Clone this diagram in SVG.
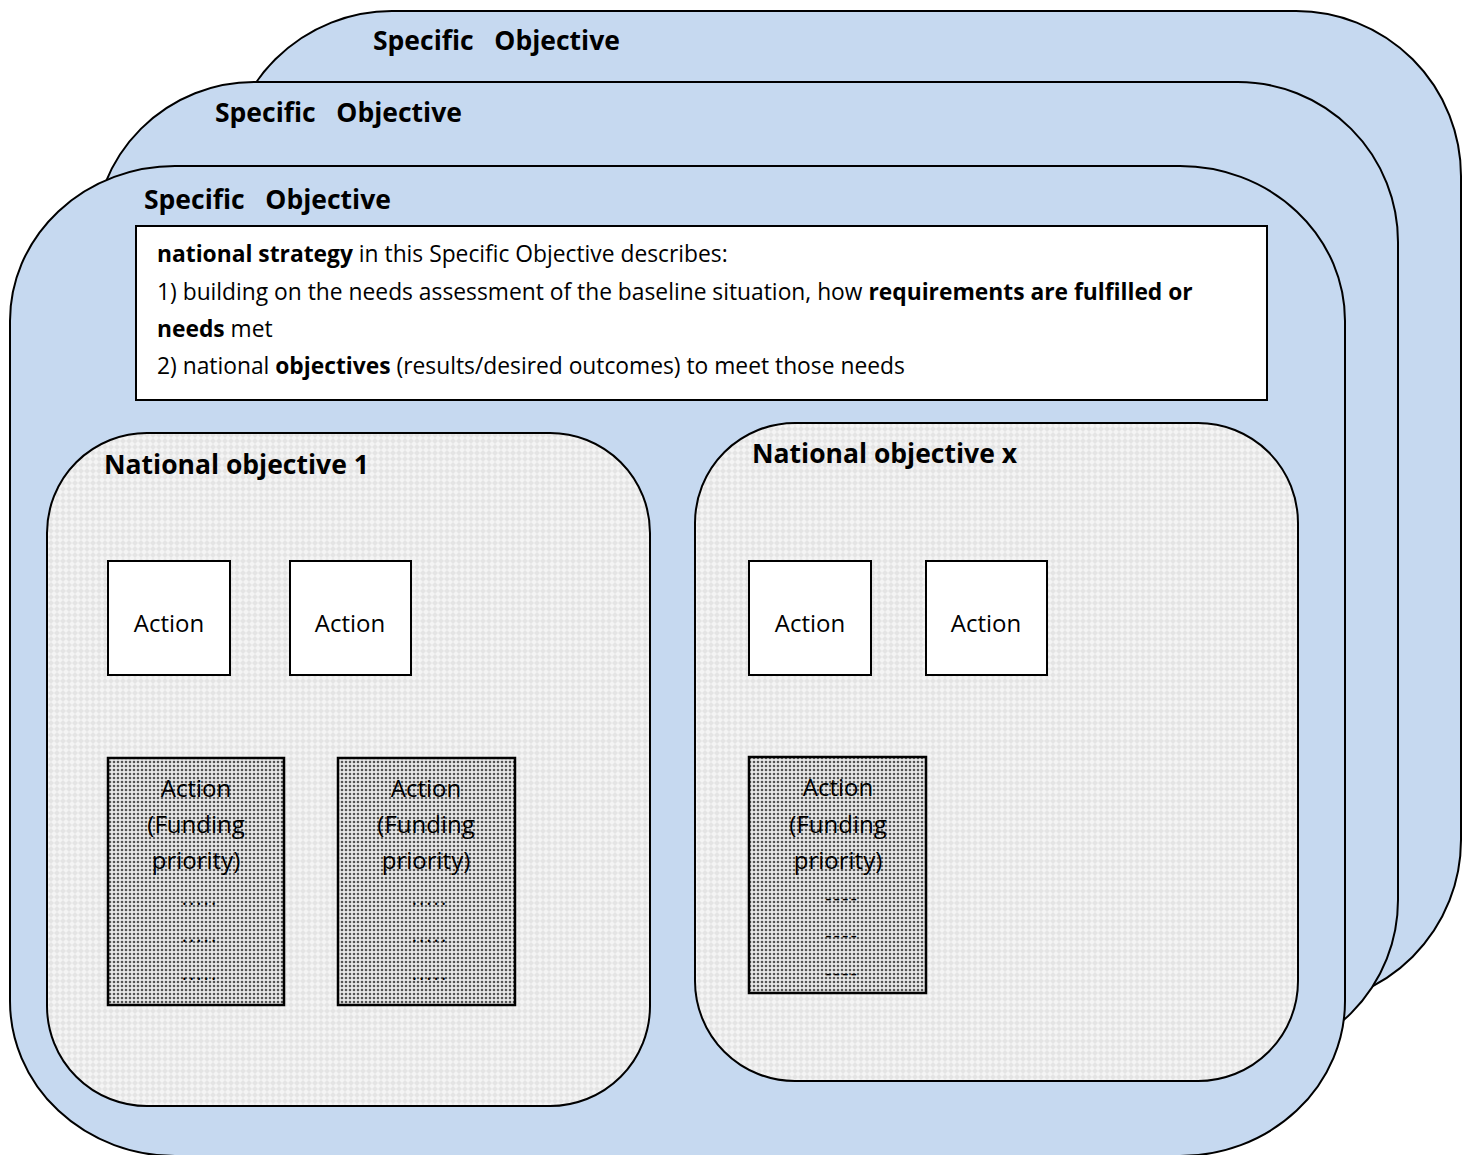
<svg xmlns="http://www.w3.org/2000/svg" width="1462" height="1155" viewBox="0 0 1462 1155">
<style>
.so{fill:#c6d9f0;stroke:#000;stroke-width:2}
.nat{fill:url(#light);stroke:#000;stroke-width:2}
.act{fill:#fff;stroke:#000;stroke-width:2}
.fund{fill:url(#dots);stroke:#000;stroke-width:2.5}
.h{font-family:"Open Sans","Liberation Sans",sans-serif;font-weight:bold;font-size:26.5px;fill:#000;white-space:pre}
.t{font-family:"Open Sans","Liberation Sans",sans-serif;font-size:22.8px;fill:#000}
.b{font-weight:bold}
.a{font-family:"Open Sans","Liberation Sans",sans-serif;font-size:24px;fill:#000;text-anchor:middle}
.d{font-family:"Open Sans","Liberation Sans",sans-serif;font-size:20px;fill:#000;text-anchor:middle;letter-spacing:2px}
</style>
<defs>
<pattern id="light" width="6" height="6" patternUnits="userSpaceOnUse">
<rect width="6" height="6" fill="#f4f4f4"/>
<path d="M0 3L3 0L6 3L3 6Z" fill="#e4e4e4"/>
</pattern>
<pattern id="dots" width="4" height="4" patternUnits="userSpaceOnUse">
<rect width="4" height="4" fill="#e8e8e8"/>
<circle cx="2" cy="2" r="1.3" fill="#555"/>
</pattern>
</defs>
<g id="so-back2">
<rect class="so" x="227" y="11" width="1234" height="994" rx="165" ry="165"/>
<text class="h" x="373" y="50" xml:space="preserve">Specific   Objective</text>
</g>
<g id="so-back1">
<rect class="so" x="94" y="82" width="1304" height="978" rx="160" ry="160"/>
<text class="h" x="215" y="122" xml:space="preserve">Specific   Objective</text>
</g>
<g id="so-front">
<rect class="so" x="10" y="166" width="1335" height="990" rx="165" ry="155"/>
<text class="h" x="144" y="209" xml:space="preserve">Specific   Objective</text>
</g>
<g id="strategy">
<rect x="136" y="226" width="1131" height="174" fill="#fff" stroke="#000" stroke-width="2"/>
<text class="t" x="157" y="262"><tspan class="b">national strategy</tspan> in this Specific Objective describes:</text>
<text class="t" x="157" y="300">1) building on the needs assessment of the baseline situation, how <tspan class="b">requirements are fulfilled or</tspan></text>
<text class="t" x="157" y="337"><tspan class="b">needs</tspan> met</text>
<text class="t" x="157" y="374">2) national <tspan class="b">objectives</tspan> (results/desired outcomes) to meet those needs</text>
</g>
<g id="natobj1">
<rect class="nat" x="47" y="433" width="603" height="673" rx="100" ry="100"/>
<text class="h" x="104" y="474">National objective 1</text>
</g>
<g id="natobjx">
<rect class="nat" x="695" y="423" width="603" height="658" rx="100" ry="100"/>
<text class="h" x="752" y="463">National objective x</text>
</g>
<g id="action1"><rect class="act" x="108" y="561" width="122" height="114"/><text class="a" x="169" y="632">Action</text></g>
<g id="action2"><rect class="act" x="290" y="561" width="121" height="114"/><text class="a" x="350" y="632">Action</text></g>
<g id="action3"><rect class="act" x="749" y="561" width="122" height="114"/><text class="a" x="810" y="632">Action</text></g>
<g id="action4"><rect class="act" x="926" y="561" width="121" height="114"/><text class="a" x="986" y="632">Action</text></g>
<g id="fund1">
<rect class="fund" x="108" y="758" width="176" height="247"/>
<text class="a" x="196" y="797">Action</text><text class="a" x="196" y="833">(Funding</text><text class="a" x="196" y="869">priority)</text>
<text class="d" x="200" y="905">.....</text><text class="d" x="200" y="942">.....</text><text class="d" x="200" y="980">.....</text>
</g>
<g id="fund2">
<rect class="fund" x="338" y="758" width="177" height="247"/>
<text class="a" x="426" y="797">Action</text><text class="a" x="426" y="833">(Funding</text><text class="a" x="426" y="869">priority)</text>
<text class="d" x="430" y="905">.....</text><text class="d" x="430" y="942">.....</text><text class="d" x="430" y="980">.....</text>
</g>
<g id="fund3">
<rect class="fund" x="749" y="757" width="177" height="236"/>
<text class="a" x="838" y="796">Action</text><text class="a" x="838" y="833">(Funding</text><text class="a" x="838" y="869">priority)</text>
<text class="d" x="842" y="905">----</text><text class="d" x="842" y="942">----</text><text class="d" x="842" y="980">----</text>
</g>
<g id="connectors"/>
</svg>
